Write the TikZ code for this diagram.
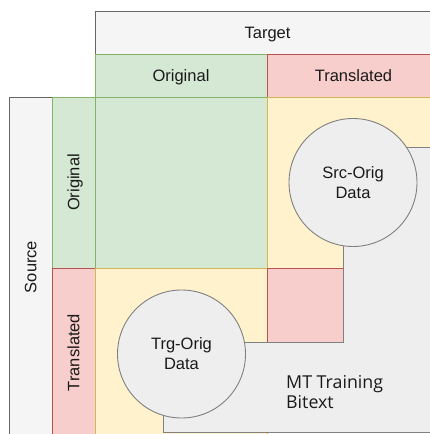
\documentclass[tikz,border=0pt]{standalone}
\usepackage{fontspec}
\setmainfont{Liberation Sans}
\newfontfamily\bitextfont{Open Sans}
\definecolor{gfill}{HTML}{D5E8D4}
\definecolor{gline}{HTML}{82B366}
\definecolor{rfill}{HTML}{F8CECC}
\definecolor{rline}{HTML}{B85450}
\definecolor{yfill}{HTML}{FFF2CC}
\definecolor{yline}{HTML}{D6B656}
\definecolor{hfill}{HTML}{F5F5F5}
\definecolor{hline}{HTML}{666666}
\definecolor{dfill}{HTML}{EEEEEE}
\definecolor{dline}{HTML}{808080}
\definecolor{txt}{HTML}{1A1A1A}
\tikzset{
  box/.style={rectangle, draw, line width=0.9pt, inner sep=0pt, outer sep=0pt, anchor=north west},
  hdr/.style={box, fill=hfill, draw=hline},
  grn/.style={box, fill=gfill, draw=gline},
  red/.style={box, fill=rfill, draw=rline},
  yel/.style={box, fill=yfill, draw=yline},
  lbl/.style={text=txt, font=\fontsize{16.5}{20}\selectfont, align=center, inner sep=0pt, text height=11.8pt, text depth=0pt},
  circ/.style={circle, draw=dline, fill=dfill, line width=0.9pt, minimum size=128pt, inner sep=0pt, text=txt, font=\fontsize{16.5}{20}\selectfont, align=center},
}
\begin{document}
\begin{tikzpicture}[x=1pt,y=-1pt]
\useasboundingbox (0,0) rectangle (430,434);
\clip (0,0) rectangle (430,434);
% headers
\node[hdr, minimum width=345pt, minimum height=43pt] (target) at (95,11) {};
\node[lbl] at (target.center) {Target};
\node[grn, minimum width=172pt, minimum height=43pt] (colorig) at (95,54) {};
\node[lbl] at (colorig.center) {Original};
\node[red, minimum width=173pt, minimum height=43pt] (coltrans) at (267,54) {};
\node[lbl] at (coltrans.center) {Translated};
\node[hdr, minimum width=43pt, minimum height=340pt] (source) at (9,97) {};
\node[lbl, rotate=90] at (source.center) {Source};
\node[grn, minimum width=43pt, minimum height=171pt] (roworig) at (52,97) {};
\node[lbl, rotate=90] at (roworig.center) {Original};
\node[red, minimum width=43pt, minimum height=169pt] (rowtrans) at (52,268) {};
\node[lbl, rotate=90] at (rowtrans.center) {Translated};
% cells
\node[grn, minimum width=172pt, minimum height=171pt] (oo) at (95,97) {};
\node[yel, minimum width=173pt, minimum height=171pt] (ot) at (267,97) {};
\node[yel, minimum width=172pt, minimum height=169pt] (to) at (95,268) {};
\node[red, minimum width=76pt, minimum height=74pt] (tt) at (267,268) {};
% MT training bitext region
\draw[fill=dfill, draw=dline, line width=0.9pt] (163,432.8) -- (163,342) -- (343,342) -- (343,147) -- (440,147) -- (440,432.8) -- cycle;
\node[text=txt, font=\bitextfont\fontsize{17.8}{20}\selectfont, align=left, anchor=north west, inner sep=0pt] (bitext) at (286,375) {MT Training\\Bitext};
% circles
\node[circ] (src) at (353,182.5) {Src-Orig\\Data};
\node[circ] (trg) at (181.5,354) {Trg-Orig\\Data};
\end{tikzpicture}
\end{document}
